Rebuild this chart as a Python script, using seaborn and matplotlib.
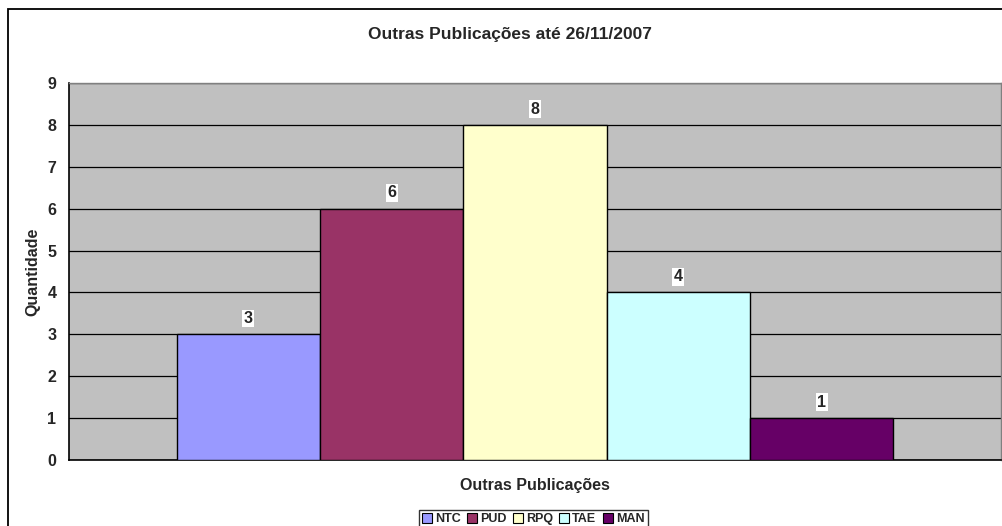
import pandas as pd
import seaborn as sns
import matplotlib.pyplot as plt
from matplotlib.patches import Rectangle

# data
series = ["NTC", "PUD", "RPQ", "TAE", "MAN"]
values = [3, 6, 8, 4, 1]
category = "Outras Publicações"
colors = ["#9999FF", "#993366", "#FFFFCC", "#CCFFFF", "#660066"]

df = pd.DataFrame({"cat": [category] * len(series), "serie": series, "qtd": values})

sns.set_style("white")
plt.rcParams["font.family"] = ["Liberation Sans", "DejaVu Sans"]
plt.rcParams["font.weight"] = "bold"

fig = plt.figure(figsize=(10.02, 5.26), dpi=100)
# outer chart border (left/top visible, the rest is cropped)
fig.patches.append(Rectangle((8 / 1002, -0.1), 1.2, 1 - 9 / 526 + 0.1, transform=fig.transFigure,
                             fill=False, edgecolor="black", linewidth=1.3))

ax = fig.add_axes([69 / 1002, 1 - 460 / 526, 932 / 1002, 377 / 526])
ax.set_facecolor("#C0C0C0")

sns.barplot(data=df, x="cat", y="qtd", hue="serie", palette=colors, width=0.769, saturation=1,
            edgecolor="black", linewidth=1, ax=ax, legend=True, zorder=3)

ax.set_xlim(-0.5, 0.5)
ax.set_ylim(0, 9)
ax.set_yticks(range(10))
ax.yaxis.grid(True, color="black", linewidth=0.9, zorder=0)
ax.set_axisbelow(True)
ax.set_xticks([-0.5, 0.5])
ax.set_xticklabels(["", ""])
ax.tick_params(axis="both", direction="out", length=5, width=1, color="black", labelsize=11.5, pad=4)
ax.tick_params(axis="x", length=6)
for lbl in ax.get_yticklabels():
    lbl.set_fontweight("bold")

for side in ["left", "bottom"]:
    ax.spines[side].set_color("black")
    ax.spines[side].set_linewidth(1.2)
for side in ["top", "right"]:
    ax.spines[side].set_color("#808080")
    ax.spines[side].set_linewidth(1)

for cont in ax.containers:
    ax.bar_label(cont, padding=6, fontsize=11.5, fontweight="bold",
                 bbox=dict(facecolor="white", edgecolor="none", pad=1))

ax.set_xlabel(category, fontsize=11.5, fontweight="bold", labelpad=3)
ax.set_ylabel("Quantidade", fontsize=11.5, fontweight="bold", labelpad=5)
fig.text(510 / 1002, 1 - 34 / 526, "Outras Publicações até 26/11/2007", ha="center", va="center",
         fontsize=12.5, fontweight="bold")

leg = ax.legend(loc="center", bbox_to_anchor=(533 / 1002, 1 - 519 / 526), bbox_transform=fig.transFigure,
                ncol=5, frameon=True, fancybox=False, edgecolor="black", fontsize=9,
                handlelength=0.8, handleheight=0.8, handletextpad=0.25, columnspacing=0.5,
                borderpad=0.25, borderaxespad=0)
leg.get_frame().set_linewidth(1)
for t in leg.get_texts():
    t.set_fontweight("bold")
for h in leg.legend_handles:
    h.set_edgecolor("black")
    h.set_linewidth(0.8)

fig.savefig("out.png", dpi=100)
